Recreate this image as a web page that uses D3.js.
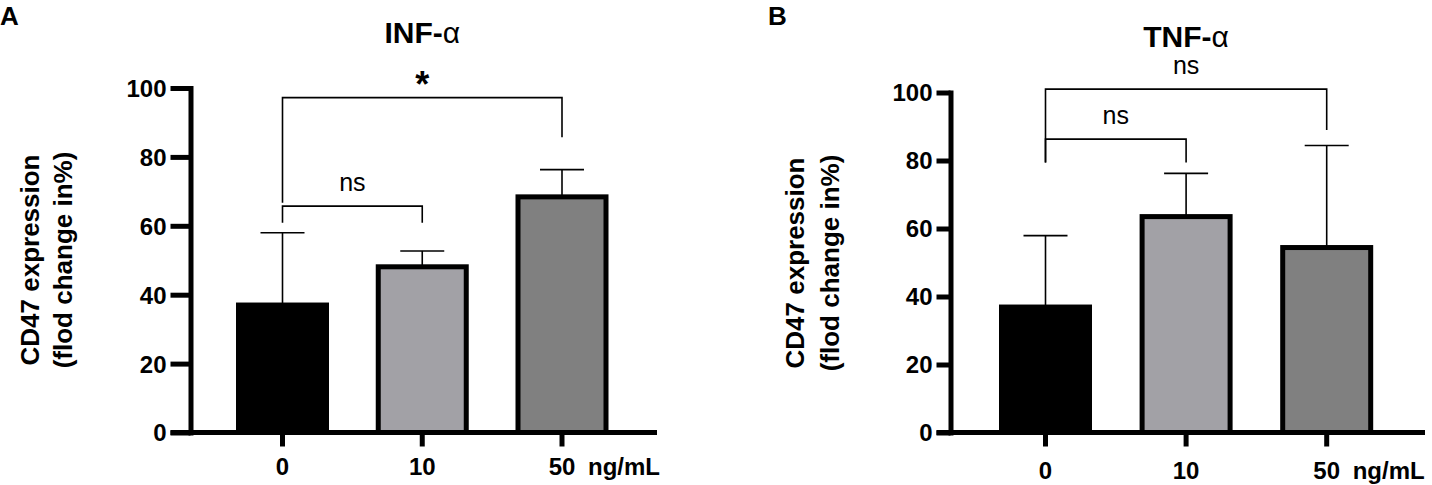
<!DOCTYPE html>
<html>
<head>
<meta charset="utf-8">
<script src="https://cdn.jsdelivr.net/npm/d3@7/dist/d3.min.js"></script>
<style>
  html, body { margin: 0; padding: 0; background: #ffffff; }
  svg { display: block; }
  text { font-family: "Liberation Sans", Arial, Helvetica, sans-serif; fill: #000; }
</style>
</head>
<body>
<svg id="chart" width="1432" height="485"></svg>
<script>
// ---------------- DATA ----------------
const categories = ["0", "10", "50"];
const unitLabel = "ng/mL";
const yTicks = [0, 20, 40, 60, 80, 100];
const barColors = ["#000000", "#a2a1a6", "#808080"];

// Panel A: INF-alpha
const infMeans = [37.0, 48.1, 68.4];
const infUpper = [58.0, 52.7, 76.3];      // mean + error
// brackets: [fromIdx, toIdx, level, leftLegEnd, rightLegEnd, label]
const infBrackets = [
  [0, 2, 97.2, 66.7, 85.7, "*"],
  [0, 1, 65.7, 60.9, 60.9, "ns"]
];

// Panel B: TNF-alpha
const tnfMeans = [36.9, 63.5, 54.4];
const tnfUpper = [57.9, 76.2, 84.4];
const tnfBrackets = [
  [0, 2, 101.0, 79.4, 89.0, "ns"],
  [0, 1, 86.3, 79.4, 79.4, "ns"]
];

const yTitleLines = ["CD47 expression", "(flod change in%)"];

// ---------------- LAYOUT ----------------
const svg = d3.select("#chart");

const panels = [
  {
    letter: "A", letterX: 0, title: "INF-", titleBaseline: 43.3,
    means: infMeans, upper: infUpper, brackets: infBrackets,
    yTop: 88, yBottom: 432.5, axisX: 190.5, yTickSize: 20,
    firstCenter: 282.5, lastCenter: 562, axisRight: 657,
    xLabelBaseline: 475, yTitleX: [39, 72], yTitleCY: 260
  },
  {
    letter: "B", letterX: 768, title: "TNF-", titleBaseline: 46.7,
    means: tnfMeans, upper: tnfUpper, brackets: tnfBrackets,
    yTop: 92.5, yBottom: 432.5, axisX: 950.5, yTickSize: 14,
    firstCenter: 1045.5, lastCenter: 1326.7, axisRight: 1425,
    xLabelBaseline: 479, yTitleX: [804, 839], yTitleCY: 263
  }
];

const barWidth = 88;
const barStroke = 5;
const axisStroke = 5;
const capHalf = 22;

panels.forEach(p => {
  const step = (p.lastCenter - p.firstCenter) / (categories.length - 1);
  const pad = 1 - barWidth / step;
  const x = d3.scaleBand()
    .domain(categories)
    .range([p.firstCenter - step / 2, p.lastCenter + step / 2])
    .paddingInner(pad)
    .paddingOuter(pad / 2);
  const cx = c => x(c) + x.bandwidth() / 2;

  const y = d3.scaleLinear().domain([0, 100]).range([p.yBottom, p.yTop]);

  const g = svg.append("g");

  // panel letter
  g.append("text")
    .attr("x", p.letterX).attr("y", 25)
    .attr("font-size", 26).attr("font-weight", "bold")
    .text(p.letter);

  // title
  const t = g.append("text")
    .attr("x", cx(categories[1])).attr("y", p.titleBaseline)
    .attr("text-anchor", "middle")
    .attr("font-size", 30);
  t.append("tspan").attr("font-weight", "bold").text(p.title);
  t.append("tspan").attr("font-weight", "normal").text("\u03b1");

  // y title
  yTitleLines.forEach((line, i) => {
    g.append("text")
      .attr("transform", `translate(${p.yTitleX[i]},${p.yTitleCY}) rotate(-90)`)
      .attr("text-anchor", "middle")
      .attr("font-size", 26).attr("font-weight", "bold")
      .text(line);
  });

  // error bars (behind bars)
  const eb = g.append("g").attr("stroke", "#000").attr("stroke-width", 1.6).attr("fill", "none");
  categories.forEach((c, i) => {
    eb.append("line")
      .attr("x1", cx(c)).attr("x2", cx(c))
      .attr("y1", y(p.means[i])).attr("y2", y(p.upper[i]));
    eb.append("line")
      .attr("x1", cx(c) - capHalf).attr("x2", cx(c) + capHalf)
      .attr("y1", y(p.upper[i])).attr("y2", y(p.upper[i]));
  });

  // bars
  g.append("g").selectAll("rect")
    .data(categories)
    .join("rect")
    .attr("x", d => x(d))
    .attr("width", x.bandwidth())
    .attr("y", (d, i) => y(p.means[i]))
    .attr("height", (d, i) => y(0) - y(p.means[i]))
    .attr("fill", (d, i) => barColors[i])
    .attr("stroke", "#000")
    .attr("stroke-width", barStroke);

  // y axis
  const yAxis = g.append("g")
    .attr("transform", `translate(${p.axisX},0)`)
    .call(d3.axisLeft(y).tickValues(yTicks).tickSize(p.yTickSize).tickSizeOuter(0).tickPadding(4));
  yAxis.select(".domain").attr("stroke-width", axisStroke).attr("stroke-linecap", "square");
  yAxis.selectAll(".tick line").attr("stroke-width", axisStroke);
  yAxis.selectAll(".tick text")
    .attr("font-size", 24).attr("font-weight", "bold")
    .attr("font-family", "Liberation Sans, Arial, sans-serif")
    .attr("dy", "0.35em");

  // x axis
  const xAxis = g.append("g")
    .attr("transform", `translate(0,${y(0)})`)
    .call(d3.axisBottom(x).tickSize(14).tickSizeOuter(0));
  xAxis.select(".domain").remove();
  xAxis.selectAll(".tick line").attr("stroke-width", axisStroke);
  xAxis.selectAll(".tick text")
    .attr("font-size", 24).attr("font-weight", "bold")
    .attr("font-family", "Liberation Sans, Arial, sans-serif")
    .attr("y", p.xLabelBaseline - y(0)).attr("dy", 0);
  g.append("line")
    .attr("x1", p.axisX - p.yTickSize).attr("x2", p.axisRight)
    .attr("y1", y(0)).attr("y2", y(0))
    .attr("stroke", "#000").attr("stroke-width", axisStroke);

  // unit label
  g.append("text")
    .attr("x", cx(categories[2]) + 26).attr("y", p.xLabelBaseline)
    .attr("font-size", 24).attr("font-weight", "bold")
    .text(unitLabel);

  // significance brackets
  const bg = g.append("g");
  p.brackets.forEach(b => {
    const [fi, ti, level, le, re, label] = b;
    const x1 = cx(categories[fi]), x2 = cx(categories[ti]);
    bg.append("path")
      .attr("d", d3.line()([[x1, y(le)], [x1, y(level)], [x2, y(level)], [x2, y(re)]]))
      .attr("fill", "none").attr("stroke", "#000").attr("stroke-width", 1.6);
    const isStar = label === "*";
    bg.append("text")
      .attr("x", (x1 + x2) / 2)
      .attr("y", isStar ? y(level) - 1 : y(level) - 15)
      .attr("text-anchor", "middle")
      .attr("font-size", isStar ? 36 : 25)
      .attr("font-weight", isStar ? "bold" : "normal")
      .text(label);
  });
});
</script>
</body>
</html>
